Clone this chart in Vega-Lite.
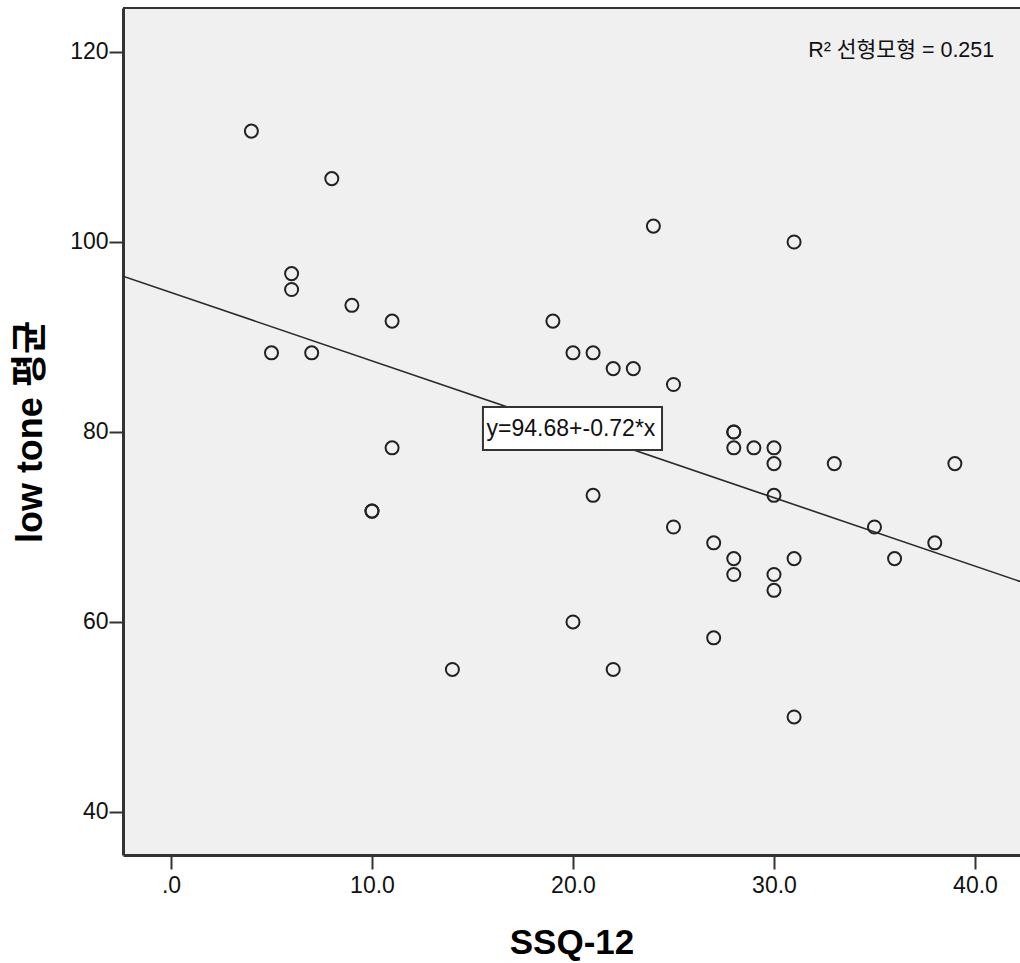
{
  "$schema": "https://vega.github.io/schema/vega-lite/v6.json",
  "width": 897,
  "height": 847,
  "autosize": {"type": "none"},
  "padding": {"left": 123, "top": 8, "right": 0, "bottom": 108},
  "background": "white",
  "config": {
    "view": {"fill": "#f0f0f0", "stroke": null},
    "font": "Liberation Sans, Arial, Noto Sans CJK KR",
    "axis": {
      "grid": false,
      "domainColor": "#333333",
      "domainWidth": 3,
      "tickColor": "#333333",
      "tickWidth": 2,
      "tickSize": 14,
      "labelFont": "Liberation Sans, Arial",
      "labelFontSize": 23,
      "labelColor": "#111111",
      "titleFont": "Liberation Sans, Arial, Noto Sans CJK KR",
      "titleFontWeight": "bold",
      "titleColor": "#000000"
    }
  },
  "datasets": {
    "pts": [
      {"x": 4, "y": 111.67}, {"x": 8, "y": 106.67}, {"x": 6, "y": 96.67}, {"x": 6, "y": 95},
      {"x": 9, "y": 93.33}, {"x": 5, "y": 88.33}, {"x": 7, "y": 88.33}, {"x": 11, "y": 91.67},
      {"x": 11, "y": 78.33}, {"x": 10, "y": 71.67}, {"x": 10, "y": 71.67}, {"x": 14, "y": 55},
      {"x": 24, "y": 101.67}, {"x": 31, "y": 100}, {"x": 19, "y": 91.67}, {"x": 20, "y": 88.33},
      {"x": 21, "y": 88.33}, {"x": 22, "y": 86.67}, {"x": 23, "y": 86.67}, {"x": 25, "y": 85},
      {"x": 28, "y": 80}, {"x": 28, "y": 80}, {"x": 28, "y": 78.33}, {"x": 29, "y": 78.33},
      {"x": 30, "y": 78.33}, {"x": 30, "y": 76.67}, {"x": 33, "y": 76.67}, {"x": 39, "y": 76.67},
      {"x": 30, "y": 73.33}, {"x": 21, "y": 73.33}, {"x": 25, "y": 70}, {"x": 27, "y": 68.33},
      {"x": 28, "y": 66.67}, {"x": 28, "y": 65}, {"x": 31, "y": 66.67}, {"x": 30, "y": 65},
      {"x": 30, "y": 63.33}, {"x": 35, "y": 70}, {"x": 36, "y": 66.67}, {"x": 38, "y": 68.33},
      {"x": 20, "y": 60}, {"x": 27, "y": 58.33}, {"x": 22, "y": 55}, {"x": 31, "y": 50}
    ],
    "fit": [{"x": -2.388, "y": 96.40}, {"x": 42.24, "y": 64.27}],
    "box": [{"x": 15.52, "x2": 24.43, "y": 78.1, "y2": 82.63}],
    "eq": [{"x": 15.7, "y": 80.3, "label": "y=94.68+-0.72*x"}],
    "r2": [{"x": 31.7, "y": 120.1, "label": "R² 선형모형 = 0.251"}],
    "top": [{"y": 124.63}]
  },
  "layer": [
    {
      "data": {"name": "top"},
      "mark": {"type": "rule", "color": "#333333", "strokeWidth": 2},
      "encoding": {
        "y": {"field": "y", "type": "quantitative", "scale": {"domain": [35.47, 124.63], "nice": false, "zero": false}}
      }
    },
    {
      "data": {"name": "fit"},
      "mark": {"type": "line", "color": "#2a2a2a", "strokeWidth": 1.6, "clip": true},
      "encoding": {
        "x": {"field": "x", "type": "quantitative", "scale": {"domain": [-2.388, 42.24], "nice": false, "zero": false},
              "axis": {"values": [0, 10, 20, 30, 40], "labelExpr": "datum.value == 0 ? '.0' : format(datum.value, '.1f')", "title": "SSQ-12", "titleFontSize": 35, "titlePadding": 28, "labelPadding": 5}},
        "y": {"field": "y", "type": "quantitative", "scale": {"domain": [35.47, 124.63], "nice": false, "zero": false},
              "axis": {"values": [40, 60, 80, 100, 120], "format": "d", "title": "low tone 평균", "titleFontSize": 36, "titlePadding": 20, "labelPadding": 1}}
      }
    },
    {
      "data": {"name": "pts"},
      "mark": {"type": "point", "shape": "circle", "filled": false, "stroke": "#222222", "strokeWidth": 2, "size": 170, "opacity": 1},
      "encoding": {
        "x": {"field": "x", "type": "quantitative", "scale": {"domain": [-2.388, 42.24], "nice": false, "zero": false}},
        "y": {"field": "y", "type": "quantitative", "scale": {"domain": [35.47, 124.63], "nice": false, "zero": false}}
      }
    },
    {
      "data": {"name": "box"},
      "mark": {"type": "rect", "fill": "white", "stroke": "#333333", "strokeWidth": 2},
      "encoding": {
        "x": {"field": "x", "type": "quantitative", "scale": {"domain": [-2.388, 42.24], "nice": false, "zero": false}},
        "x2": {"field": "x2"},
        "y": {"field": "y", "type": "quantitative", "scale": {"domain": [35.47, 124.63], "nice": false, "zero": false}},
        "y2": {"field": "y2"}
      }
    },
    {
      "data": {"name": "eq"},
      "mark": {"type": "text", "align": "left", "baseline": "middle", "fontSize": 23, "font": "Liberation Sans, Arial", "color": "#111111"},
      "encoding": {
        "x": {"field": "x", "type": "quantitative", "scale": {"domain": [-2.388, 42.24], "nice": false, "zero": false}},
        "y": {"field": "y", "type": "quantitative", "scale": {"domain": [35.47, 124.63], "nice": false, "zero": false}},
        "text": {"field": "label"}
      }
    },
    {
      "data": {"name": "r2"},
      "mark": {"type": "text", "align": "left", "baseline": "middle", "fontSize": 21.5, "font": "Liberation Sans, Noto Sans CJK KR", "color": "#111111"},
      "encoding": {
        "x": {"field": "x", "type": "quantitative", "scale": {"domain": [-2.388, 42.24], "nice": false, "zero": false}},
        "y": {"field": "y", "type": "quantitative", "scale": {"domain": [35.47, 124.63], "nice": false, "zero": false}},
        "text": {"field": "label"}
      }
    }
  ]
}
